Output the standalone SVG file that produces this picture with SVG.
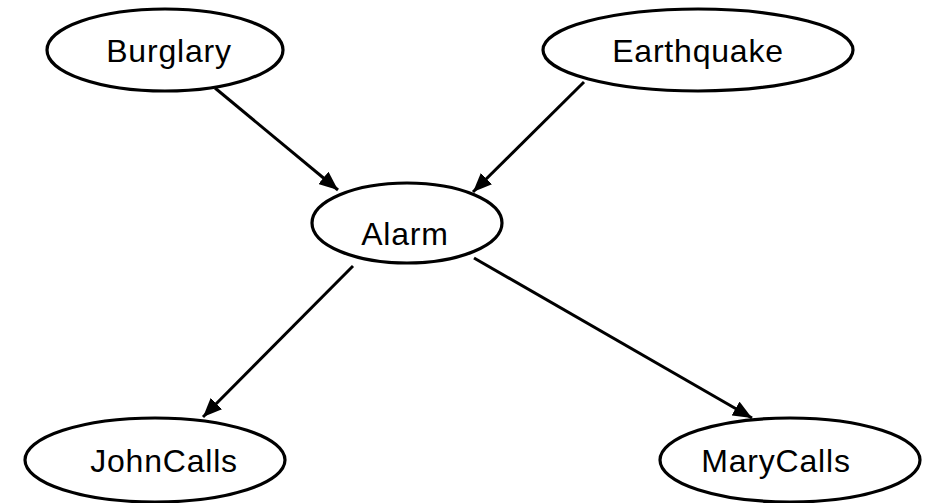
<svg xmlns="http://www.w3.org/2000/svg" width="935" height="503" viewBox="0 0 935 503">
<style>
.n{fill:#fff;stroke:#000;stroke-width:3.2}
.t{font-family:"Liberation Sans",Arial,sans-serif;font-size:32px;fill:#000;letter-spacing:0.8px}
.e{stroke:#000;stroke-width:3;fill:none;marker-end:url(#ah)}
</style>
<defs>
<marker id="ah" markerUnits="userSpaceOnUse" markerWidth="20" markerHeight="16" refX="19" refY="8" orient="auto">
<path d="M0,0 L19,8 L0,16 Z" fill="#000"/>
</marker>
</defs>
<rect width="935" height="503" fill="#fff"/>
<g id="edges">
<line class="e" x1="215" y1="88" x2="338" y2="190"/>
<line class="e" x1="584" y1="82" x2="473" y2="192"/>
<line class="e" x1="353" y1="266" x2="203" y2="417"/>
<line class="e" x1="474" y1="258" x2="752" y2="418"/>
</g>
<g id="burglary">
<ellipse class="n" cx="165" cy="50" rx="118" ry="41"/>
<text class="t" x="169" y="62" text-anchor="middle">Burglary</text>
</g>
<g id="earthquake">
<ellipse class="n" cx="698" cy="50" rx="155" ry="41"/>
<text class="t" x="698" y="62" text-anchor="middle">Earthquake</text>
</g>
<g id="alarm">
<ellipse class="n" cx="407" cy="223" rx="95" ry="40"/>
<text class="t" x="405" y="245" text-anchor="middle">Alarm</text>
</g>
<g id="johncalls">
<ellipse class="n" cx="155" cy="460" rx="130" ry="42"/>
<text class="t" x="164" y="472" text-anchor="middle">JohnCalls</text>
</g>
<g id="marycalls">
<ellipse class="n" cx="790" cy="460" rx="130" ry="42"/>
<text class="t" x="776" y="472" text-anchor="middle">MaryCalls</text>
</g>
</svg>
